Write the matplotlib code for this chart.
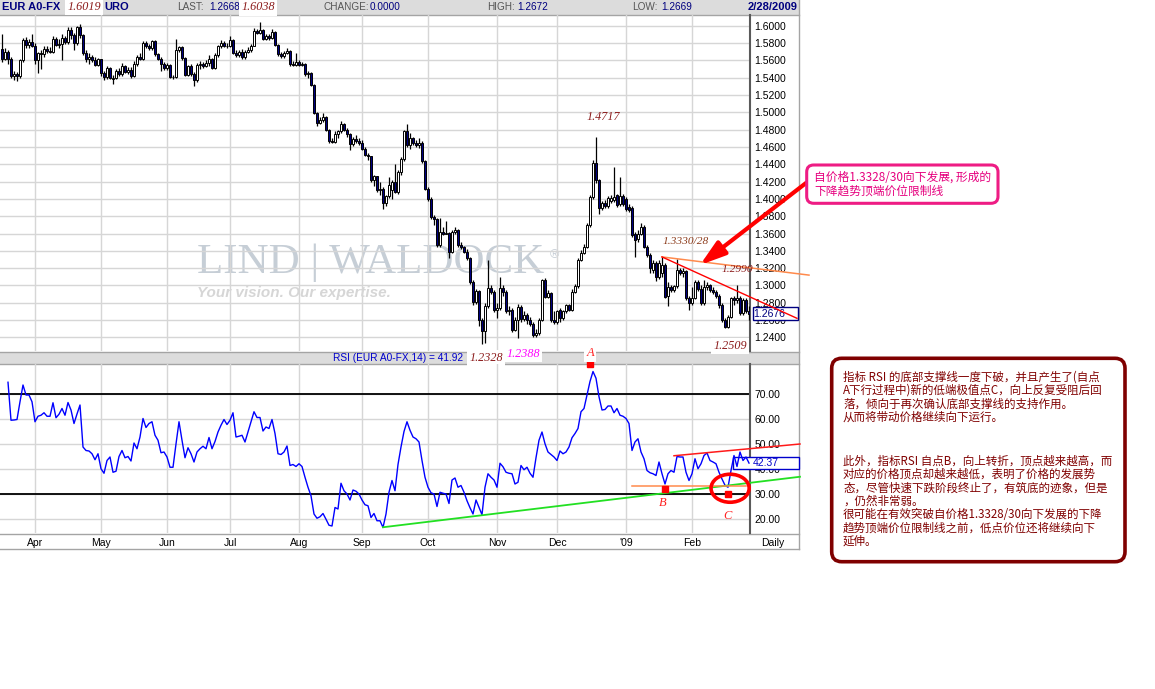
import numpy as np
import pandas as pd
import matplotlib
matplotlib.use("Agg")
import matplotlib.pyplot as plt
from matplotlib.patches import Rectangle, FancyBboxPatch, Ellipse, FancyArrowPatch
from matplotlib.transforms import blended_transform_factory

plt.rcParams["font.family"] = ["Liberation Sans", "Noto Sans CJK SC", "DejaVu Sans"]

# ---------------------------------------------------------------- data
SESSIONS = pd.bdate_range("2008-03-17", "2009-02-27")   # daily EUR/USD sessions

OPEN = [
    1.5727, 1.5620, 1.5700, 1.5615, 1.5420, 1.5440, 1.5415, 1.5600, 1.5840, 1.5780,
    1.5810, 1.5770, 1.5600, 1.5680, 1.5670, 1.5730, 1.5710, 1.5700, 1.5850, 1.5780,
    1.5790, 1.5860, 1.5810, 1.5950, 1.5890, 1.5800, 1.5990, 1.5890, 1.5690, 1.5610,
    1.5640, 1.5600, 1.5550, 1.5610, 1.5450, 1.5410, 1.5510, 1.5390, 1.5400, 1.5480,
    1.5440, 1.5530, 1.5470, 1.5490, 1.5420, 1.5560, 1.5640, 1.5620, 1.5800, 1.5760,
    1.5740, 1.5820, 1.5670, 1.5620, 1.5560, 1.5510, 1.5550, 1.5410, 1.5405, 1.5720,
    1.5750, 1.5630, 1.5430, 1.5540, 1.5440, 1.5370, 1.5550, 1.5560, 1.5540, 1.5570,
    1.5620, 1.5510, 1.5660, 1.5760, 1.5800, 1.5770, 1.5760, 1.5840, 1.5690, 1.5660,
    1.5700, 1.5640, 1.5700, 1.5720, 1.5770, 1.5940, 1.5920, 1.5950, 1.5850, 1.5880,
    1.5860, 1.5930, 1.5780, 1.5670, 1.5650, 1.5690, 1.5710, 1.5560, 1.5550, 1.5580,
    1.5550, 1.5560, 1.5440, 1.5450, 1.5320, 1.4990, 1.4880, 1.4910, 1.4950, 1.4800,
    1.4670, 1.4660, 1.4750, 1.4780, 1.4870, 1.4800, 1.4750, 1.4630, 1.4690, 1.4670,
    1.4650, 1.4580, 1.4510, 1.4490, 1.4220, 1.4260, 1.4100, 1.4120, 1.3950, 1.4030,
    1.4100, 1.4200, 1.4080, 1.4310, 1.4460, 1.4780, 1.4620, 1.4700, 1.4650, 1.4620,
    1.4650, 1.4440, 1.4120, 1.4000, 1.3790, 1.3770, 1.3470, 1.3620, 1.3600, 1.3610,
    1.3390, 1.3620, 1.3640, 1.3470, 1.3440, 1.3390, 1.3320, 1.3040, 1.2810, 1.2940,
    1.2600, 1.2470, 1.2760, 1.2970, 1.2930, 1.2717, 1.2740, 1.2967, 1.2930, 1.2700,
    1.2720, 1.2490, 1.2600, 1.2755, 1.2610, 1.2660, 1.2600, 1.2560, 1.2430, 1.2450,
    1.2600, 1.3060, 1.2870, 1.2910, 1.2600, 1.2580, 1.2720, 1.2630, 1.2700, 1.2770,
    1.2720, 1.2930, 1.2990, 1.3300, 1.3380, 1.3450, 1.3698, 1.4025, 1.4410, 1.4218,
    1.3891, 1.3948, 1.3920, 1.3970, 1.3990, 1.4040, 1.3940, 1.4030, 1.4000, 1.3910,
    1.3900, 1.3600, 1.3540, 1.3600, 1.3680, 1.3448, 1.3352, 1.3180, 1.3256, 1.3102,
    1.3150, 1.3240, 1.2880, 1.2980, 1.2950, 1.2990, 1.3179, 1.3150, 1.3170, 1.2850,
    1.2800, 1.2860, 1.3040, 1.2960, 1.2800, 1.2980, 1.3000, 1.2950, 1.2930, 1.2880,
    1.2780, 1.2600, 1.2520, 1.2640, 1.2850, 1.2830, 1.2860, 1.2680, 1.2830, 1.2700,
]
HIGH = [
    1.5900, 1.5745, 1.5720, 1.5640, 1.5480, 1.5460, 1.5620, 1.5860, 1.5870, 1.5850,
    1.5900, 1.5800, 1.5700, 1.5720, 1.5760, 1.5770, 1.5750, 1.5880, 1.5870, 1.5850,
    1.5900, 1.5880, 1.5990, 1.5980, 1.5910, 1.6000, 1.6019, 1.5900, 1.5720, 1.5680,
    1.5660, 1.5640, 1.5630, 1.5620, 1.5480, 1.5530, 1.5520, 1.5430, 1.5500, 1.5510,
    1.5570, 1.5550, 1.5520, 1.5520, 1.5590, 1.5660, 1.5680, 1.5820, 1.5820, 1.5790,
    1.5840, 1.5830, 1.5690, 1.5640, 1.5580, 1.5570, 1.5560, 1.5430, 1.5850, 1.5770,
    1.5760, 1.5640, 1.5550, 1.5560, 1.5460, 1.5570, 1.5590, 1.5580, 1.5600, 1.5660,
    1.5630, 1.5680, 1.5780, 1.5830, 1.5820, 1.5800, 1.5880, 1.5850, 1.5720, 1.5720,
    1.5730, 1.5720, 1.5750, 1.5790, 1.5970, 1.5960, 1.6038, 1.5960, 1.5900, 1.5900,
    1.5960, 1.5940, 1.5790, 1.5700, 1.5710, 1.5740, 1.5720, 1.5590, 1.5680, 1.5600,
    1.5580, 1.5570, 1.5480, 1.5460, 1.5330, 1.5000, 1.4950, 1.4990, 1.4960, 1.4810,
    1.4700, 1.4780, 1.4800, 1.4900, 1.4880, 1.4820, 1.4760, 1.4720, 1.4740, 1.4700,
    1.4680, 1.4600, 1.4530, 1.4500, 1.4280, 1.4270, 1.4200, 1.4140, 1.4050, 1.4250,
    1.4220, 1.4400, 1.4330, 1.4480, 1.4800, 1.4867, 1.4760, 1.4720, 1.4680, 1.4700,
    1.4670, 1.4450, 1.4140, 1.4020, 1.3810, 1.3780, 1.3780, 1.3680, 1.3740, 1.3620,
    1.3640, 1.3680, 1.3650, 1.3500, 1.3460, 1.3420, 1.3330, 1.3060, 1.2960, 1.2950,
    1.2620, 1.2800, 1.3290, 1.3000, 1.2950, 1.2800, 1.3102, 1.3000, 1.2950, 1.2760,
    1.2740, 1.2640, 1.2790, 1.2780, 1.2700, 1.2680, 1.2640, 1.2580, 1.2500, 1.2630,
    1.3080, 1.3090, 1.2950, 1.2930, 1.2700, 1.2720, 1.2740, 1.2720, 1.2790, 1.2790,
    1.2960, 1.3020, 1.3320, 1.3410, 1.3480, 1.3720, 1.4050, 1.4450, 1.4717, 1.4230,
    1.3980, 1.3990, 1.4030, 1.4040, 1.4372, 1.4060, 1.4250, 1.4060, 1.4020, 1.3940,
    1.3920, 1.3620, 1.3640, 1.3720, 1.3700, 1.3470, 1.3370, 1.3290, 1.3280, 1.3290,
    1.3330, 1.3260, 1.3040, 1.3000, 1.3010, 1.3310, 1.3200, 1.3200, 1.3180, 1.2880,
    1.2980, 1.3060, 1.3060, 1.3000, 1.3063, 1.3040, 1.3020, 1.2980, 1.2950, 1.2900,
    1.2800, 1.2620, 1.2660, 1.2870, 1.2880, 1.3006, 1.2880, 1.2860, 1.2850, 1.2760,
]
LOW = [
    1.5580, 1.5600, 1.5560, 1.5400, 1.5370, 1.5360, 1.5400, 1.5580, 1.5740, 1.5740,
    1.5750, 1.5560, 1.5450, 1.5500, 1.5640, 1.5680, 1.5680, 1.5690, 1.5760, 1.5740,
    1.5600, 1.5790, 1.5790, 1.5850, 1.5720, 1.5780, 1.5860, 1.5660, 1.5580, 1.5560,
    1.5580, 1.5530, 1.5530, 1.5420, 1.5370, 1.5390, 1.5380, 1.5330, 1.5380, 1.5420,
    1.5420, 1.5450, 1.5440, 1.5400, 1.5410, 1.5540, 1.5600, 1.5600, 1.5740, 1.5720,
    1.5720, 1.5650, 1.5600, 1.5480, 1.5490, 1.5490, 1.5400, 1.5390, 1.5400, 1.5700,
    1.5600, 1.5420, 1.5420, 1.5420, 1.5300, 1.5350, 1.5500, 1.5510, 1.5520, 1.5540,
    1.5500, 1.5500, 1.5640, 1.5740, 1.5750, 1.5740, 1.5750, 1.5670, 1.5640, 1.5640,
    1.5620, 1.5620, 1.5680, 1.5700, 1.5760, 1.5900, 1.5900, 1.5830, 1.5830, 1.5840,
    1.5850, 1.5760, 1.5650, 1.5630, 1.5630, 1.5670, 1.5540, 1.5530, 1.5540, 1.5530,
    1.5530, 1.5420, 1.5400, 1.5300, 1.4980, 1.4840, 1.4860, 1.4890, 1.4780, 1.4650,
    1.4640, 1.4640, 1.4700, 1.4760, 1.4780, 1.4720, 1.4560, 1.4610, 1.4650, 1.4620,
    1.4560, 1.4490, 1.4450, 1.4200, 1.4150, 1.4080, 1.4050, 1.3880, 1.3920, 1.4010,
    1.4000, 1.4070, 1.4060, 1.4280, 1.4440, 1.4600, 1.4580, 1.4620, 1.4600, 1.4590,
    1.4420, 1.4100, 1.3980, 1.3770, 1.3700, 1.3450, 1.3440, 1.3580, 1.3590, 1.3320,
    1.3380, 1.3600, 1.3450, 1.3420, 1.3370, 1.3300, 1.3020, 1.2780, 1.2790, 1.2530,
    1.2328, 1.2340, 1.2740, 1.2900, 1.2690, 1.2620, 1.2720, 1.2880, 1.2680, 1.2660,
    1.2460, 1.2470, 1.2388, 1.2580, 1.2590, 1.2560, 1.2530, 1.2410, 1.2410, 1.2430,
    1.2590, 1.2850, 1.2850, 1.2580, 1.2560, 1.2550, 1.2580, 1.2600, 1.2680, 1.2700,
    1.2700, 1.2910, 1.2970, 1.3280, 1.3360, 1.3430, 1.3680, 1.4000, 1.4180, 1.3830,
    1.3870, 1.3900, 1.3900, 1.3950, 1.3960, 1.3910, 1.3920, 1.3920, 1.3860, 1.3850,
    1.3560, 1.3330, 1.3500, 1.3580, 1.3430, 1.3330, 1.3150, 1.3150, 1.3050, 1.3080,
    1.3100, 1.2850, 1.2760, 1.2920, 1.2930, 1.2970, 1.3120, 1.3100, 1.2830, 1.2720,
    1.2780, 1.2840, 1.2940, 1.2780, 1.2780, 1.2950, 1.2930, 1.2900, 1.2860, 1.2740,
    1.2580, 1.2510, 1.2509, 1.2620, 1.2780, 1.2800, 1.2660, 1.2660, 1.2680, 1.2600,
]
CLOSE = [
    1.5611, 1.5700, 1.5615, 1.5420, 1.5440, 1.5415, 1.5600, 1.5840, 1.5780, 1.5810,
    1.5770, 1.5600, 1.5680, 1.5670, 1.5730, 1.5710, 1.5700, 1.5850, 1.5780, 1.5790,
    1.5860, 1.5810, 1.5950, 1.5890, 1.5800, 1.5990, 1.5890, 1.5690, 1.5610, 1.5640,
    1.5600, 1.5550, 1.5610, 1.5450, 1.5410, 1.5510, 1.5400, 1.5400, 1.5480, 1.5440,
    1.5530, 1.5470, 1.5490, 1.5420, 1.5560, 1.5640, 1.5620, 1.5800, 1.5760, 1.5740,
    1.5820, 1.5670, 1.5620, 1.5560, 1.5510, 1.5550, 1.5410, 1.5405, 1.5720, 1.5750,
    1.5630, 1.5430, 1.5540, 1.5440, 1.5370, 1.5550, 1.5560, 1.5540, 1.5570, 1.5620,
    1.5510, 1.5660, 1.5760, 1.5800, 1.5770, 1.5760, 1.5840, 1.5690, 1.5660, 1.5700,
    1.5640, 1.5700, 1.5720, 1.5770, 1.5940, 1.5920, 1.5950, 1.5850, 1.5880, 1.5860,
    1.5930, 1.5780, 1.5670, 1.5650, 1.5690, 1.5710, 1.5560, 1.5550, 1.5580, 1.5550,
    1.5560, 1.5440, 1.5450, 1.5320, 1.4990, 1.4880, 1.4910, 1.4950, 1.4800, 1.4670,
    1.4660, 1.4750, 1.4780, 1.4870, 1.4800, 1.4750, 1.4630, 1.4690, 1.4670, 1.4650,
    1.4580, 1.4510, 1.4490, 1.4220, 1.4260, 1.4100, 1.4120, 1.3950, 1.4030, 1.4160,
    1.4200, 1.4080, 1.4310, 1.4460, 1.4780, 1.4620, 1.4700, 1.4650, 1.4620, 1.4650,
    1.4440, 1.4120, 1.4000, 1.3790, 1.3770, 1.3470, 1.3620, 1.3600, 1.3610, 1.3390,
    1.3620, 1.3640, 1.3470, 1.3440, 1.3390, 1.3320, 1.3040, 1.2810, 1.2940, 1.2600,
    1.2470, 1.2760, 1.2970, 1.2930, 1.2717, 1.2740, 1.2967, 1.2930, 1.2700, 1.2720,
    1.2490, 1.2600, 1.2755, 1.2610, 1.2660, 1.2600, 1.2560, 1.2430, 1.2450, 1.2600,
    1.3060, 1.2870, 1.2910, 1.2600, 1.2580, 1.2700, 1.2630, 1.2700, 1.2770, 1.2720,
    1.2930, 1.2990, 1.3300, 1.3380, 1.3450, 1.3698, 1.4025, 1.4410, 1.4218, 1.3891,
    1.3948, 1.3920, 1.4006, 1.4010, 1.4020, 1.3930, 1.4030, 1.3940, 1.3880, 1.3870,
    1.3583, 1.3525, 1.3600, 1.3680, 1.3448, 1.3352, 1.3198, 1.3256, 1.3102, 1.3256,
    1.3240, 1.2871, 1.2980, 1.2950, 1.2990, 1.3179, 1.3150, 1.3170, 1.2850, 1.2800,
    1.2860, 1.3040, 1.2960, 1.2800, 1.2980, 1.3000, 1.2950, 1.2930, 1.2880, 1.2780,
    1.2600, 1.2520, 1.2640, 1.2850, 1.2830, 1.2860, 1.2680, 1.2830, 1.2700, 1.2676,
]
nan = float("nan")
RSI = [
    nan, nan, 74.7, 59.5, 59.6, 59.8, 66.9, 73.6, 69.6, 69.6,
    66.9, 58.9, 61.1, 61.5, 62.5, 61.1, 61.1, 66.5, 60.5, 61.9,
    64.2, 61.5, 66.6, 63.6, 58.2, 62.0, 65.6, 48.8, 47.4, 47.2,
    46.1, 43.7, 46.1, 40.1, 38.3, 43.4, 44.8, 38.7, 39.1, 45.0,
    47.4, 44.5, 45.0, 43.2, 50.4, 48.1, 52.8, 60.2, 56.6, 58.2,
    58.9, 53.5, 51.5, 46.5, 46.8, 44.8, 40.7, 40.7, 50.0, 58.9,
    51.5, 44.5, 48.5, 46.1, 42.8, 46.8, 48.1, 49.1, 48.1, 52.6,
    48.1, 51.0, 54.8, 57.5, 59.8, 57.8, 59.5, 62.5, 52.8, 53.1,
    53.5, 50.8, 54.8, 58.9, 62.9, 60.6, 60.6, 55.2, 56.8, 56.2,
    59.8, 54.2, 46.1, 45.8, 46.8, 49.2, 41.4, 41.8, 41.0, 42.1,
    41.0, 36.7, 32.7, 29.3, 22.0, 20.3, 20.9, 22.2, 19.9, 17.5,
    17.2, 24.6, 24.0, 34.3, 31.3, 30.0, 27.6, 31.6, 31.1, 30.0,
    27.6, 25.7, 25.3, 20.6, 22.2, 19.3, 19.3, 16.6, 22.0, 30.7,
    35.4, 31.3, 41.8, 48.8, 55.0, 58.9, 55.5, 52.8, 52.1, 50.8,
    43.4, 36.7, 32.7, 30.5, 30.0, 25.0, 30.7, 30.3, 30.0, 26.2,
    35.6, 36.4, 32.7, 33.4, 30.7, 27.3, 24.5, 22.0, 27.6, 24.6,
    21.7, 32.7, 38.1, 36.7, 35.6, 32.7, 42.3, 40.9, 38.7, 38.3,
    38.1, 34.0, 34.7, 41.4, 39.7, 40.7, 38.3, 36.7, 44.5, 51.5,
    54.8, 50.1, 46.8, 45.8, 44.8, 43.4, 47.2, 46.1, 46.8, 48.8,
    52.5, 54.2, 56.2, 62.9, 64.2, 69.6, 75.0, 79.0, 76.3, 68.9,
    63.6, 63.8, 65.2, 65.2, 62.5, 64.2, 61.5, 61.1, 60.2, 58.2,
    47.4, 50.8, 52.1, 46.8, 44.1, 39.4, 38.5, 38.1, 37.4, 42.8,
    38.1, 34.0, 38.1, 39.4, 38.7, 45.0, 44.8, 44.8, 38.7, 35.4,
    38.1, 44.1, 40.1, 42.1, 45.4, 46.4, 43.4, 42.8, 42.1, 38.7,
    36.0, 33.5, 32.7, 39.4, 45.4, 41.0, 46.8, 43.4, 44.8, 42.37,
]
for series in (OPEN, HIGH, LOW, CLOSE, RSI):
    assert len(series) == len(SESSIONS)

MONTH_LABELS = ["Apr", "May", "Jun", "Jul", "Aug", "Sep", "Oct", "Nov", "Dec", "'09", "Feb"]
PRICE_TICKS = [1.24, 1.26, 1.28, 1.30, 1.32, 1.34, 1.36, 1.38, 1.40, 1.42,
               1.44, 1.46, 1.48, 1.50, 1.52, 1.54, 1.56, 1.58, 1.60]
RSI_TICKS = [20, 30, 40, 50, 60, 70]
RSI_BANDS = [30, 70]

# hand-drawn study lines (bar index, value)
LID_X, LID_Y = [220, 269], [1.3330, 1.3120]          # upper resistance from 1.3330/28
FAST_X, FAST_Y = [220, 265], [1.3330, 1.2621]        # steeper falling line
SUPPORT_X, SUPPORT_Y = [127, 266], [16.7, 36.9]      # RSI floor trendline
CEIL_X, CEIL_Y = [224, 266], [45.3, 50.0]            # RSI rising highs
FLOOR_X, FLOOR_Y = [210, 248], [33.4, 33.4]          # RSI level through B
PIVOT_NAMES = ["A", "B", "C"]
PIVOT_X = [196, 221, 242]
PIVOT_Y = [81.9, 31.9, 30.0]

HEADER_FIELDS = [("LAST:", 177, "1.2668", 209), ("CHANGE:", 323, "0.0000", 370),
                 ("HIGH:", 487, "1.2672", 517), ("LOW:", 632, "1.2669", 661)]
HEADER_DATE = "2/28/2009"
RSI_TITLE = "RSI (EUR A0-FX,14) = 41.92"
RSI_LAST_TEXT = "42.37"

CALLOUT_LINES = ["自价格1.3328/30向下发展, 形成的", "下降趋势顶端价位限制线"]
NOTE_LINES_1 = ["指标 RSI 的底部支撑线一度下破，并且产生了(自点",
                "A下行过程中)新的低端极值点C，向上反复受阻后回",
                "落，倾向于再次确认底部支撑线的支持作用。",
                "从而将带动价格继续向下运行。"]
NOTE_LINES_2 = ["此外，指标RSI 自点B，向上转折，顶点越来越高，而",
                "对应的价格顶点却越来越低，表明了价格的发展势",
                "态，尽管快速下跌阶段终止了，有筑底的迹象，但是",
                "，仍然非常弱。",
                "很可能在有效突破自价格1.3328/30向下发展的下降",
                "趋势顶端价位限制线之前，低点价位还将继续向下",
                "延伸。"]

# ---------------------------------------------------------------- layout
W, H = 1155, 689
fig = plt.figure(figsize=(W / 100, H / 100), dpi=100)
fig.patch.set_facecolor("white")


def frame(x0, y0, x1, y1):
    return [x0 / W, 1 - y1 / H, (x1 - x0) / W, (y1 - y0) / H]


base = fig.add_axes([0, 0, 1, 1], zorder=0)
base.set_xlim(0, W)
base.set_ylim(H, 0)
base.axis("off")

axp = fig.add_axes(frame(0, 15, 750, 351), zorder=1)
axr = fig.add_axes(frame(0, 364, 750, 533), zorder=1)

over = fig.add_axes([0, 0, 1, 1], zorder=2)
over.set_xlim(0, W)
over.set_ylim(H, 0)
over.axis("off")

NAVY = "#00007F"
GRID = "#D6D6D6"
BAR = "#DCDCDC"
EDGE = "#A4A4A4"
TAG = "#8B1A1A"
SERIF = "Liberation Serif"
CJK = ["Noto Sans CJK SC", "DejaVu Sans"]

# ---------------------------------------------------------------- chrome
base.add_patch(Rectangle((0, 0), 799, 14.5, fc=BAR, ec="none"))
base.plot([0, 799], [14.5, 14.5], color=EDGE, lw=1)
base.add_patch(Rectangle((0, 352), 799, 12, fc=BAR, ec="none"))
base.plot([0, 799], [352, 352], color=EDGE, lw=1)
base.plot([0, 799], [364, 364], color=EDGE, lw=1)
base.plot([0, 799], [533.5, 533.5], color=EDGE, lw=1)
base.plot([0, 799], [549, 549], color=EDGE, lw=1)
base.plot([799, 799], [0, 549], color=EDGE, lw=1)

base.text(2, 7.5, "EUR A0-FX", fontsize=8, fontweight="bold", color=NAVY, va="center")
base.text(104, 7.5, "URO", fontsize=8, fontweight="bold", color=NAVY, va="center")
for label, lx, value, vx in HEADER_FIELDS:
    base.text(lx, 7.5, label, fontsize=7.2, color="#555555", va="center")
    base.text(vx, 7.5, value, fontsize=7.2, color=NAVY, va="center")
base.text(797, 7.5, HEADER_DATE, fontsize=8, fontweight="bold", color=NAVY, ha="right", va="center")

base.text(398, 358, RSI_TITLE, fontsize=7.3, color="#0000CC", ha="center", va="center")
base.text(773, 542.5, "Daily", fontsize=7.5, color="black", ha="center", va="center")

# watermark
base.text(197, 272.5, "LIND | WALDOCK", fontsize=31, family=SERIF, color="#C6CED6", va="baseline")
base.text(550, 255, "®", fontsize=9, color="#C6CED6", va="center")
base.text(197, 293, "Your vision. Our expertise.", fontsize=11, fontweight="bold",
          style="italic", color="#D6D6D6", va="center")

# ---------------------------------------------------------------- axes styling
x = np.arange(len(SESSIONS))
month_pos = [i for i in range(1, len(SESSIONS)) if SESSIONS[i].month != SESSIONS[i - 1].month]

for ax in (axp, axr):
    ax.patch.set_alpha(0)
    ax.set_xlim(-2 / 3, len(SESSIONS) - 2 / 3)
    ax.set_xticks(month_pos)
    ax.grid(True, color=GRID, linewidth=1.0)
    ax.set_axisbelow(True)
    for s in ("left", "top", "bottom"):
        ax.spines[s].set_visible(False)
    ax.spines["right"].set_color("#5A5A5A")
    ax.spines["right"].set_linewidth(1.5)
    ax.yaxis.tick_right()
    ax.tick_params(axis="y", length=0, pad=3.2, labelsize=7.5, labelcolor="black")

axp.set_ylim(1.22436, 1.61236)
axp.set_yticks(PRICE_TICKS)
axp.set_yticklabels([f"{t:.4f}" for t in PRICE_TICKS])
axp.tick_params(axis="x", length=0, labelbottom=False)

axr.set_ylim(14.4, 82.0)
axr.set_yticks(RSI_TICKS)
axr.set_yticklabels([f"{t:.2f}" for t in RSI_TICKS])
axr.set_xticklabels(MONTH_LABELS)
axr.tick_params(axis="x", length=0, pad=3.4, labelsize=7.5)

# ---------------------------------------------------------------- candles
o, hi, lo, c = (np.asarray(v) for v in (OPEN, HIGH, LOW, CLOSE))
rising = c >= o
axp.vlines(x, lo, hi, colors="black", linewidth=0.9, zorder=3)
axp.bar(x[rising], (c - o)[rising], bottom=o[rising], width=0.8,
        facecolor="white", edgecolor="black", linewidth=0.7, zorder=4)
axp.bar(x[~rising], (o - c)[~rising], bottom=c[~rising], width=0.8,
        facecolor="#000080", edgecolor="black", linewidth=0.7, zorder=4)

axp.plot(LID_X, LID_Y, color="#FF8A4C", lw=1.1, clip_on=False, zorder=6)
axp.plot(FAST_X, FAST_Y, color="#FF0000", lw=1.0, clip_on=False, zorder=6)

# ---------------------------------------------------------------- RSI
axr.plot(x, RSI, color="#0000FF", lw=1.0, zorder=4)
for lvl in RSI_BANDS:
    axr.axhline(lvl, color="black", lw=1.3, zorder=2)
axr.plot(SUPPORT_X, SUPPORT_Y, color="#22E022", lw=1.3, clip_on=False, zorder=5)
axr.plot(FLOOR_X, FLOOR_Y, color="#FF8A4C", lw=1.1, zorder=5)
axr.plot(CEIL_X, CEIL_Y, color="#FF1A1A", lw=1.1, clip_on=False, zorder=5)
axr.plot(PIVOT_X, PIVOT_Y, "s", color="#FF0000", ms=4.5, clip_on=False, zorder=7)
axr.add_patch(Ellipse((242.7, 32.3), width=12.7, height=11.2, fill=False,
                      ec="#FF0000", lw=2.6, zorder=7, clip_on=False))


# ---------------------------------------------------------------- value boxes on the scale
def value_box(ax, value, text, x0, x1, h, edge, tcol, tx):
    y0, y1 = ax.get_ylim()
    per_px = (y1 - y0) / ax.bbox.height
    wpx = ax.bbox.width
    tr = blended_transform_factory(ax.transAxes, ax.transData)
    ax.add_patch(Rectangle((x0 / wpx, value - h / 2 * per_px), (x1 - x0) / wpx, h * per_px,
                           transform=tr, fc="white", ec=edge, lw=1.0, clip_on=False, zorder=3.5))
    ax.text(tx / wpx, value, text, transform=tr, ha="left", va="center", fontsize=7.5,
            color=tcol, clip_on=False, zorder=3.6)


value_box(axp, CLOSE[-1], f"{CLOSE[-1]:.4f}", 752.7, 798.3, 12.4, "#000080", "#000080", 753.5)
value_box(axr, RSI[-1], RSI_LAST_TEXT, 733.3, 799.0, 12.7, "#0000CC", "#0000CC", 752.7)


# ---------------------------------------------------------------- value tags
def tag(ax, text, xy, off, color, boxed=False, size=8.7):
    kw = {}
    if boxed:
        kw["bbox"] = dict(boxstyle="square,pad=0.18", fc="white", ec="none")
    ax.annotate(text, xy=xy, xytext=off, textcoords="offset pixels", ha="center", va="center",
                fontsize=size, family=SERIF, style="italic", color=color,
                annotation_clip=False, zorder=8, **kw)


tag(axp, "1.6019", (26, HIGH[26]), (4, 17), TAG, boxed=True)
tag(axp, "1.6038", (86, HIGH[86]), (-2, 15), TAG, boxed=True)
tag(axp, "1.4717", (198, HIGH[198]), (7, 20), TAG)
tag(axp, "1.3330/28", (220, HIGH[220]), (24, 15), "#8B3A1A", size=8.2)
tag(axp, "1.2509", (242, LOW[242]), (2, -18), TAG, boxed=True)
tag(axp, "1.2328", (160, LOW[160]), (4, -14), TAG, boxed=True)
tag(axp, "1.2388", (172, LOW[172]), (5, -15.5), "#FF00FF", boxed=True)

for name, px_, py_, off in zip(PIVOT_NAMES, PIVOT_X, PIVOT_Y, [(0, 11), (-2, -14), (-1, -22)]):
    tag(axr, name, (px_, py_), off, "#FF2020", boxed=(name == "A"), size=9)

over.text(737, 270, "1.2990", fontsize=8.2, family=SERIF, style="italic", color=TAG,
          ha="center", va="center")

# ---------------------------------------------------------------- callouts
over.add_patch(FancyArrowPatch((806, 183), (700, 265),
                               arrowstyle="-|>,head_length=1.1,head_width=0.35",
                               mutation_scale=14, lw=3, color="#FF0000",
                               shrinkA=0, shrinkB=0, zorder=3))

over.add_patch(FancyBboxPatch((806.7, 165), 191.3, 38.3,
                              boxstyle="round,pad=0,rounding_size=7",
                              ec="#EE1C84", fc="white", lw=2.2, zorder=4))
for k, line in enumerate(CALLOUT_LINES):
    over.text(814, 176.7 + 14 * k, line, fontsize=8.5, color="#E6007E",
              family=CJK, va="center", zorder=5)

over.add_patch(FancyBboxPatch((831.7, 358.3), 293.3, 203.4,
                              boxstyle="round,pad=0,rounding_size=10",
                              ec="#7F0000", fc="white", lw=2.6, zorder=4))
for k, line in enumerate(NOTE_LINES_1):
    over.text(843, 377 + 13.4 * k, line, fontsize=8.3, color="#800000",
              family=CJK, va="center", zorder=5)
for k, line in enumerate(NOTE_LINES_2):
    over.text(843, 461 + 13.4 * k, line, fontsize=8.3, color="#800000",
              family=CJK, va="center", zorder=5)

fig.savefig("out.png", dpi=100, facecolor="white")
